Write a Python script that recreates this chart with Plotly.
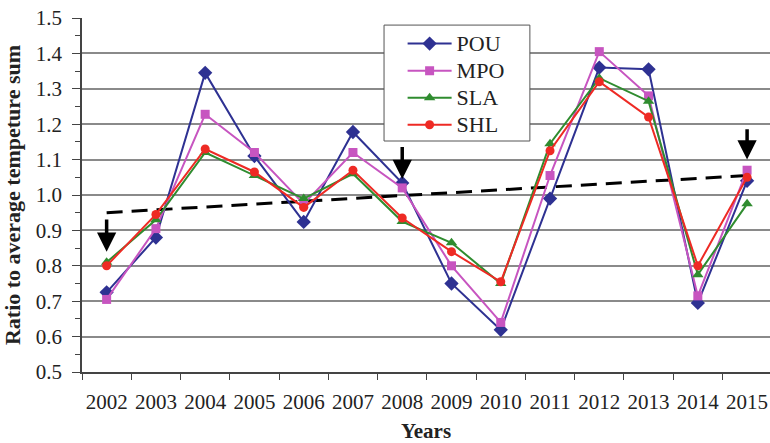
import plotly.graph_objects as go

years = list(range(2002, 2016))
pou = [0.725, 0.88, 1.345, 1.11, 0.924, 1.178, 1.034, 0.75, 0.619, 0.99, 1.36, 1.355, 0.695, 1.04]
mpo = [0.705, 0.905, 1.228, 1.12, 0.975, 1.12, 1.02, 0.80, 0.64, 1.055, 1.405, 1.28, 0.715, 1.07]
sla = [0.81, 0.93, 1.12, 1.055, 0.99, 1.06, 0.925, 0.865, 0.75, 1.145, 1.33, 1.265, 0.775, 0.975]
shl = [0.80, 0.945, 1.13, 1.065, 0.965, 1.07, 0.935, 0.84, 0.755, 1.125, 1.32, 1.22, 0.80, 1.05]
trend_years = [2002, 2015]
trend_vals = [0.95, 1.055]
arrow_years = [2002, 2008, 2015]
arrow_tops = [0.935, 1.14, 1.19]
arrow_tips = [0.84, 1.045, 1.10]

series = [
    ("POU", pou, "#2E3192", "diamond", 11),
    ("MPO", mpo, "#C755C0", "square", 9),
    ("SLA", sla, "#2F8C2F", "triangle-up", 10),
    ("SHL", shl, "#EE2A24", "circle", 9),
]

fig = go.Figure()
fig.add_trace(go.Scatter(x=trend_years, y=trend_vals, mode="lines",
                         line=dict(color="black", width=3, dash="16px,9px"),
                         showlegend=False, hoverinfo="skip"))
for name, vals, col, sym, sz in series:
    fig.add_trace(go.Scatter(x=years, y=vals,
                             name=f"<span style='font-size:22px'>{name}</span>",
                             mode="lines+markers",
                             line=dict(color=col, width=2),
                             marker=dict(symbol=sym, size=sz, color=col)))

for xv, top, tip in zip(arrow_years, arrow_tops, arrow_tips):
    fig.add_annotation(x=xv, y=tip, ax=xv, ay=top, xref="x", yref="y",
                       axref="x", ayref="y", showarrow=True, arrowhead=2,
                       arrowsize=1.1, arrowwidth=3.5, arrowcolor="black", text="")

# legend frame
fig.add_shape(type="rect", xref="paper", yref="paper", x0=0.439, x1=0.651, y0=0.6525, y1=0.98,
              line=dict(color="#555", width=1), fillcolor="white", layer="above")

serif = "Liberation Serif"
fig.update_layout(
    width=770, height=443,
    margin=dict(l=82, r=0, t=18, b=71),
    paper_bgcolor="white", plot_bgcolor="white",
    font=dict(family=serif, size=19, color="#222"),
    legend=dict(x=0.466, y=0.98, xanchor="left", yanchor="top",
                borderwidth=0, bgcolor="rgba(0,0,0,0)",
                font=dict(family=serif, size=18.5, color="#222"),
                tracegroupgap=0, itemwidth=44),
    xaxis=dict(range=[2001.5, 2015.465], tickmode="array", tickvals=years,
               ticktext=[str(y) for y in years], ticks="", showgrid=False,
               showline=True, linecolor="#444", linewidth=1.5,
               tickfont=dict(size=21), automargin=False, ticklabelstandoff=10,
               minor=dict(tickmode="array", tickvals=[y - 0.5 for y in years] + [years[-1] + 0.5],
                          ticks="outside", ticklen=6, tickcolor="#444", showgrid=False),
               title=dict(text="<b>Years</b>", font=dict(size=21), standoff=10),
               zeroline=False),
    yaxis=dict(range=[0.5, 1.5], dtick=0.1, tick0=0.5, tickformat=".1f",
               ticks="outside", ticklen=8, tickcolor="#444",
               showgrid=True, gridcolor="#8a8a8a", gridwidth=1.5,
               showline=True, linecolor="#444", linewidth=1.5,
               tickfont=dict(size=21), automargin=False, ticklabelstandoff=6,
               minor=dict(dtick=0.05, ticks="outside", ticklen=5, tickcolor="#444", showgrid=False),
               title=dict(text="<b>Ratio to average tempeture sum</b>", font=dict(size=22), standoff=19),
               zeroline=False),
)

fig.write_html("out.html", config={"displayModeBar": False},
               post_script="document.body.style.margin='0';")
